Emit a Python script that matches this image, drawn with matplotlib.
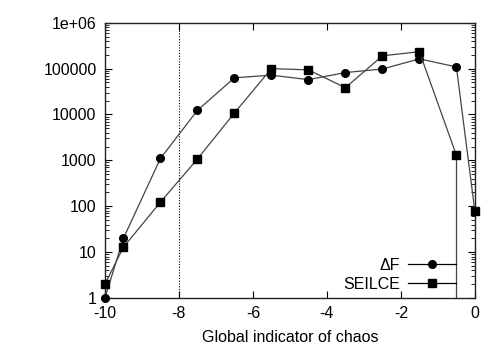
import numpy as np
import matplotlib
matplotlib.use("Agg")
import matplotlib.pyplot as plt
from matplotlib.ticker import LogLocator, FixedLocator, NullFormatter

plt.rcParams['font.family'] = ['Liberation Sans', 'DejaVu Sans']

# data
x_vals = [-10, -9.5, -8.5, -7.5, -6.5, -5.5, -4.5, -3.5, -2.5, -1.5, -0.5, 0]
deltaF = [1, 20, 1100, 12300, 63000, 72000, 57500, 82000, 98000, 163000, 109000, 77]
seilce = [2, 12.8, 123, 1070, 10800, 100000, 94000, 38400, 190000, 234000, 1290, 77]
x_ticks = [-10, -8, -6, -4, -2, 0]
y_ticks = [1, 10, 100, 1000, 10000, 100000, 1000000]
y_labels = ['1', '10', '100', '1000', '10000', '100000', '1e+06']
chaos_limit = -8

fig = plt.figure(figsize=(5.02, 3.52), dpi=100)
ax = fig.add_axes([0.209, 0.1534, 0.737, 0.782])

line_col = '#444444'
ax.plot(x_vals, deltaF, color=line_col, lw=0.9, marker='o', ms=5.5,
        mfc='black', mec='black', label='ΔF', clip_on=False, zorder=3)
# SEILCE line stops at -0.5 and drops to the bottom there
ax.plot(x_vals[:-1], seilce[:-1], color=line_col, lw=0.9, marker='s', ms=5.5,
        mfc='black', mec='black', label='SEILCE', clip_on=False, zorder=3)
ax.vlines(x_vals[-2], 0.5, seilce[-2], color=line_col, lw=0.9)
ax.plot(x_vals[-1:], seilce[-1:], ls='none', marker='s', ms=5.5,
        color='black', clip_on=False, zorder=3)

ax.axvline(chaos_limit, color='black', lw=0.8, ls=(0, (1, 1.5)))

ax.set_yscale('log')
ax.set_xlim(-10, 0)
ax.set_ylim(1, 1e6)
ax.set_xticks(x_ticks)
ax.set_xticklabels([str(t) for t in x_ticks])
ax.yaxis.set_major_locator(FixedLocator(y_ticks))
ax.set_yticklabels(y_labels)
ax.yaxis.set_minor_locator(LogLocator(base=10, subs=np.arange(2, 10)))
ax.yaxis.set_minor_formatter(NullFormatter())

ax.tick_params(which='both', direction='in', top=True, right=True,
               labelsize=11.5, colors='black', pad=6)
ax.tick_params(which='major', length=5, width=0.8)
ax.tick_params(which='minor', length=3, width=0.6)
for s in ax.spines.values():
    s.set_linewidth(1.0)
    s.set_color('#222222')

ax.set_xlabel('Global indicator of chaos', fontsize=11.5, labelpad=6)

leg = ax.legend(loc='lower right', frameon=False, markerfirst=False,
                fontsize=11.5, handlelength=3.0, handletextpad=0.5,
                labelspacing=0.25, borderaxespad=0.0,
                bbox_to_anchor=(0.965, 0.0))
for t in leg.get_texts():
    t.set_ha('right')
for h in leg.legend_handles:
    h.set_color('black')

fig.savefig('out.png', dpi=100)
